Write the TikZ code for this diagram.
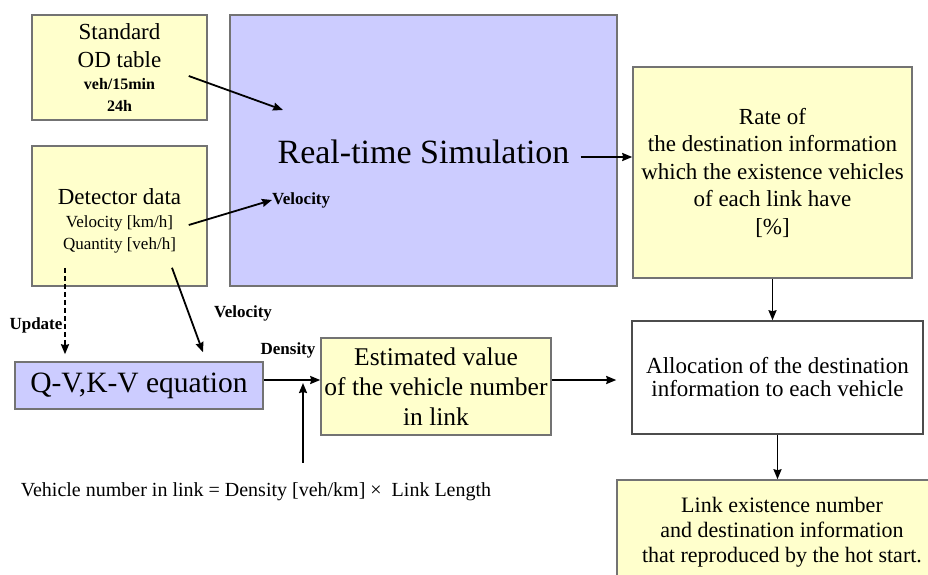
\documentclass[tikz,border=0pt]{standalone}
\usepackage{fontspec}
\setmainfont{Liberation Serif}
\usepackage{tikz}
\usetikzlibrary{arrows.meta, positioning, calc}

\definecolor{boxyellow}{RGB}{255,255,204}
\definecolor{boxblue}{RGB}{204,204,255}

\begin{document}
\begin{tikzpicture}[
    x=1pt, y=-1pt,
    block/.style={rectangle, draw=black!55, line width=1.5pt, fill=boxyellow, align=center, inner sep=0pt},
    simblock/.style={block, fill=boxblue},
    plainblock/.style={block, fill=white, draw=black!70},
    lbl/.style={inner sep=0pt, font=\fontsize{17}{20}\selectfont\bfseries},
    arrow/.style={line width=1.8pt, ->, >={Stealth[length=10pt,width=8pt,inset=1pt]}}
]
\useasboundingbox (0,0) rectangle (928,574);
\clip (0,0) rectangle (928,574);

% Inputs
\node (od) [block, minimum width=175pt, minimum height=105pt, font=\fontsize{23}{28}\selectfont] at (119.5,67.5)
    {Standard\\OD table\\[-6pt]{\fontsize{16}{18}\selectfont\bfseries veh/15min}\\[-6pt]{\fontsize{16}{18}\selectfont\bfseries 24h}};
\node (det) [block, minimum width=175pt, minimum height=140pt, font=\fontsize{17}{22.5}\selectfont] at (119.5,216)
    {\\[4pt]{\fontsize{23}{24}\selectfont Detector data}\\Velocity [km/h]\\Quantity [veh/h]};

% Simulation
\node (sim) [simblock, minimum width=387pt, minimum height=271pt] at (423.5,150.5) {};
\node (simtitle) [inner sep=0pt, font=\fontsize{34}{40}\selectfont] at (423.5,152) {Real-time Simulation};
\node (vlab) [lbl, anchor=west] at (272,200) {Velocity};

% Right column
\node (rate) [block, minimum width=279pt, minimum height=211pt, font=\fontsize{23}{27.5}\selectfont] at (772.5,172.5)
    {Rate of\\the destination information\\which the existence vehicles\\of each link have\\{[\%]}};
\node (alloc) [plainblock, minimum width=291pt, minimum height=113pt, font=\fontsize{23}{23}\selectfont] at (777.5,377.5)
    {Allocation of the destination\\information to each vehicle};
\node (link) [block, minimum width=330pt, minimum height=104pt, font=\fontsize{22}{25}\selectfont] at (782,532)
    {Link existence number\\and destination information\\that reproduced by the hot start.};

% Lower row
\node (qv) [simblock, minimum width=248pt, minimum height=47pt, font=\fontsize{29.5}{30}\selectfont] at (139,385.5) {Q-V,K-V equation};
\node (est) [block, minimum width=230pt, minimum height=97pt, font=\fontsize{25.5}{30}\selectfont] at (436,386.5)
    {Estimated value\\of the vehicle number\\in link};
\node (formula) [inner xsep=0pt, inner ysep=20pt, font=\fontsize{20}{24}\selectfont] at (256,492)
    {Vehicle number in link = Density [veh/km] ×\ \ Link Length};

% Labels
\node (upd) [lbl] at (36,325) {Update};
\node (vlab2) [lbl] at (243,313) {Velocity};
\node (dens) [lbl] at (288,350) {Density};

% Arrows
\coordinate (odin) at (283,110);
\coordinate (simout) at ($(simtitle.east)+(11,5)$);
\coordinate (densin) at (303,380);

\draw [arrow] ([shift={(-19,8.5)}]od.east) -- (odin);
\draw [arrow] ([shift={(-19,9)}]det.east) -- (vlab.west);
\draw [arrow] (simout) -- (simout -| rate.west);
\draw [arrow] (rate.south) -- (rate.south |- alloc.north);
\draw [arrow] (alloc.south) -- (alloc.south |- link.north);

\draw [arrow, dash pattern=on 5pt off 3pt] ([shift={(-54.5,-19)}]det.south) -- ([shift={(-74,-7)}]qv.north);
\draw [arrow] ([shift={(52.5,-19)}]det.south) -- ([shift={(64,-9)}]qv.north);
\draw [arrow] ([yshift=5.5pt]qv.east) -- ([yshift=5.5pt]qv.east -| est.west);
\draw [arrow, shorten >=15pt] ([yshift=6.5pt]est.east) -- ([yshift=6.5pt]est.east -| alloc.west);
\draw [arrow, shorten >=3pt] (formula.north -| densin) -- (densin);

\end{tikzpicture}
\end{document}
